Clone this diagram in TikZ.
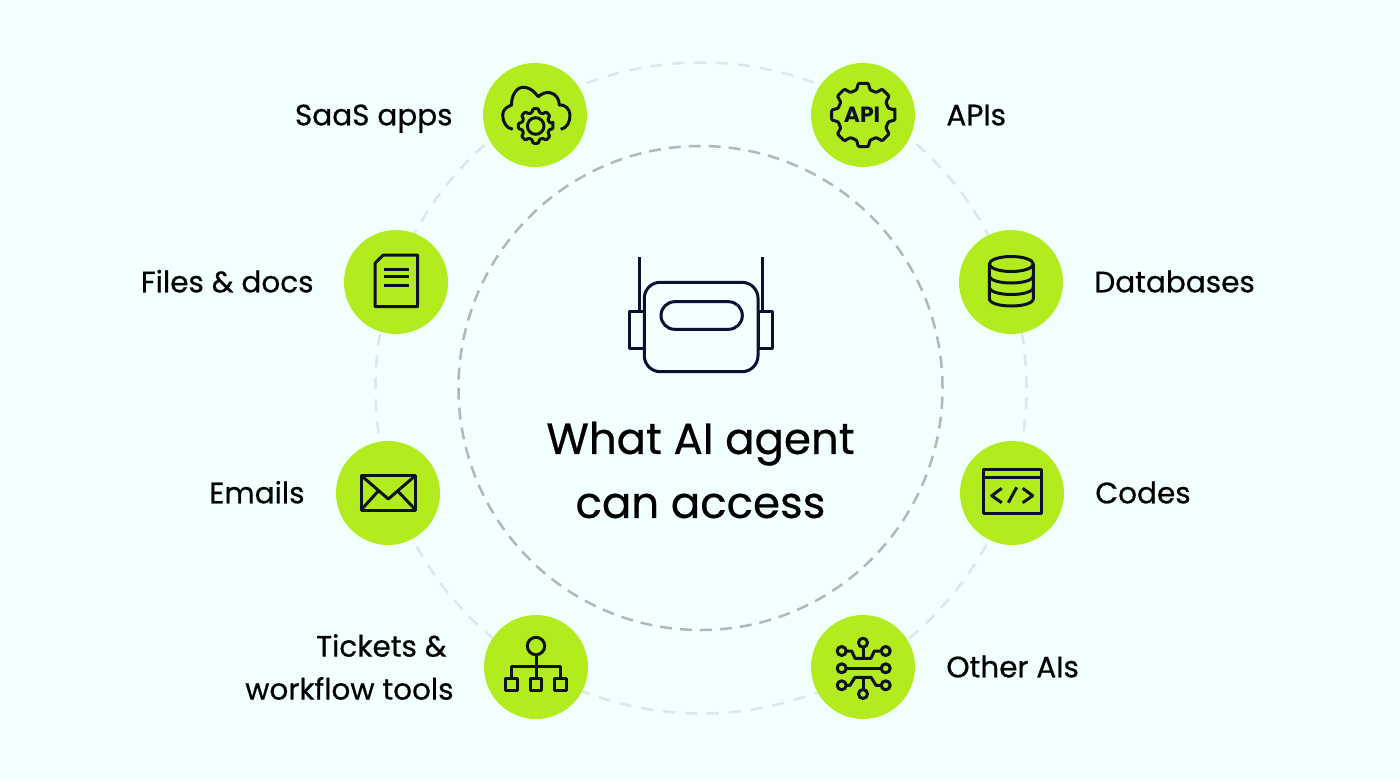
\documentclass[tikz,border=0pt]{standalone}
\usepackage{fontspec}
\setmainfont{Poppins}[UprightFeatures={FakeBold=0.6}]
\usetikzlibrary{positioning,calc}
\definecolor{paper}{HTML}{F1FFFE}
\definecolor{lime}{HTML}{B2EC1F}
\definecolor{ink}{HTML}{0B1320}
\definecolor{navy}{HTML}{0A0F33}
\definecolor{ringout}{HTML}{DCE7E7}
\definecolor{ringin}{HTML}{AEBABA}
\tikzset{
  bubble/.style={shape=circle, fill=lime, minimum size=104pt, inner sep=0pt},
  ring/.style={shape=circle, draw, line width=2.5pt, inner sep=0pt},
  tag/.style={text=black, font=\fontsize{29.5}{43}\selectfont, inner sep=0pt},
  oneline/.style={tag, text height=26pt, text depth=5.4pt},
  icon/.style={draw=ink, line width=3pt, line join=round},
  robot/.style={draw=navy, line width=3pt, line join=round}
}
\newcommand{\gearpath}[4]{($(#1,#2)+(-9:#3)$)
  \foreach \k in {0,45,...,315} {
    -- ($(#1,#2)+(\k-9:#3)$) -- ($(#1,#2)+(\k+9:#3)$)
    -- ($(#1,#2)+(\k+15:#4)$) -- ($(#1,#2)+(\k+30:#4)$)
  } -- cycle}
\begin{document}
\begin{tikzpicture}[x=1pt, y=-1pt]
\useasboundingbox (0,0) rectangle (1400,780);
\fill [paper] (0,0) rectangle (1400,780);

\node [ring, draw=ringout, dash pattern=on 12pt off 10pt, minimum size=651pt] (Outer) at (701,388) {};
\node [ring, draw=ringin, dash pattern=on 12pt off 8pt, minimum size=484pt] (Inner) at (700.5,388) {};

\node [bubble] (Saas) at (535,115) {};
\node [bubble] (Api) at (863,115) {};
\node [bubble] (Files) at (396,282) {};
\node [bubble] (Data) at (1011,282) {};
\node [bubble] (Mail) at (388,493) {};
\node [bubble] (Code) at (1012,493) {};
\node [bubble] (Tick) at (536,667) {};
\node [bubble] (Other) at (863,667) {};

\node [oneline, left=30pt of Saas] (LSaas) {SaaS apps};
\node [oneline, right=31pt of Api] (LApi) {APIs};
\node [oneline, left=30pt of Files] (LFiles) {Files \& docs};
\node [oneline, right=31pt of Data] (LData) {Databases};
\node [oneline, left=31pt of Mail] (LMail) {Emails};
\node [oneline, right=31pt of Code] (LCode) {Codes};
\node [tag, left=30pt of Tick, align=right] (LTick) {Tickets \&\hspace*{7pt}\\workflow tools};
\node [oneline, right=31pt of Other] (LOther) {Other AIs};

\node [text=black, font=\fontsize{43.5}{64}\selectfont, align=center, inner sep=0pt] (Title) at (700.5,470) {What AI agent\\can access};

\draw [robot] (639.3,257) -- (639.3,311.7);
\draw [robot] (762,257) -- (762,311.7);
\draw [robot] (629.3,311.7) rectangle (644.3,348.3);
\draw [robot] (758,311.7) rectangle (772.3,348.3);
\draw [robot, rounded corners=16pt] (644.3,282.3) rectangle (758,371.7);
\draw [robot, rounded corners=13.7pt] (661,301.7) rectangle (742.3,329.3);

\draw [icon] (512.7,129.3) to [out=170, in=-90] (502.7,115) to [out=90, in=200] (511.7,105)
  to [out=95, in=170] (525,87.3) to [out=-10, in=130] (538.3,96.7)
  to [out=40, in=170] (550,92.7) to [out=-10, in=90] (559.3,105)
  to [out=10, in=90] (570,115) to [out=-90, in=10] (560.7,129.3);
\draw [icon, fill=lime, rounded corners=1pt] \gearpath{535.7}{126}{17.5}{14};
\draw [icon] (535.7,126) circle (8.3);

\draw [icon, rounded corners=1pt] \gearpath{863.3}{115}{32}{26};
\node [text=ink, font=\fontsize{22}{22}\selectfont, inner sep=0pt] (ApiText) at (862,115) {\textbf{API}};

\draw [icon] (383.3,255) -- (417.7,255) -- (417.7,306.7) -- (375,306.7) -- (375,263.3) -- cycle;
\foreach \y in {269,276.7,285} {
  \draw [icon] (384,\y) -- (409,\y);
}

\draw [icon] (1011.3,264) ellipse [x radius=22, y radius=7.5];
\draw [icon] (989.3,264) -- (989.3,298.5) .. controls (989.3,308.5) and (1033.3,308.5) .. (1033.3,298.5) -- (1033.3,264);
\foreach \y in {275.5,287} {
  \draw [icon] (989.3,\y) .. controls (989.3,\y+10) and (1033.3,\y+10) .. (1033.3,\y);
}

\draw [icon] (361,475.3) rectangle (415.7,510);
\draw [icon] (361,475.3) -- (388.3,499) -- (415.7,475.3);
\draw [icon] (361,510) -- (378.3,491);
\draw [icon] (415.7,510) -- (397.7,491);

\draw [icon] (983.3,469.3) rectangle (1041.3,513.3);
\draw [icon] (983.3,477.3) -- (1041.3,477.3);
\draw [icon] (1001.7,488.3) -- (991.7,495.7) -- (1001.7,502.7);
\draw [icon] (1022.7,488.3) -- (1032.7,495.7) -- (1022.7,502.7);
\draw [icon] (1016.7,487.3) -- (1008.3,502.7);

\draw [icon] (536,646) circle (8.7);
\draw [icon] (536,654.7) -- (536,678.3);
\draw [icon] (511.7,678.3) -- (511.7,666.7) -- (560.7,666.7) -- (560.7,678.3);
\foreach \x in {511.7,536,560.3} {
  \draw [icon] (\x-5.8,678.3) rectangle (\x+5.8,690);
}

\foreach \x/\y in {863/642.7,863/694,841.7/651,885.7/651,841.7/668.3,885.7/668.3,841.7/685.3,885.7/685.3} {
  \draw [icon] (\x,\y) circle (4.5);
}
\draw [icon] (846.2,668.3) -- (881.2,668.3);
\draw [icon] (863,647.2) -- (863,658.3);
\draw [icon] (846.2,651) -- (851.7,651) -- (855,658.3) -- (871,658.3) -- (874.3,651) -- (881.2,651);
\draw [icon] (863,677.3) -- (863,689.5);
\draw [icon] (846.2,685.3) -- (850,685.3) -- (855,677.3) -- (871,677.3) -- (876,685.3) -- (881.2,685.3);
\end{tikzpicture}
\end{document}
